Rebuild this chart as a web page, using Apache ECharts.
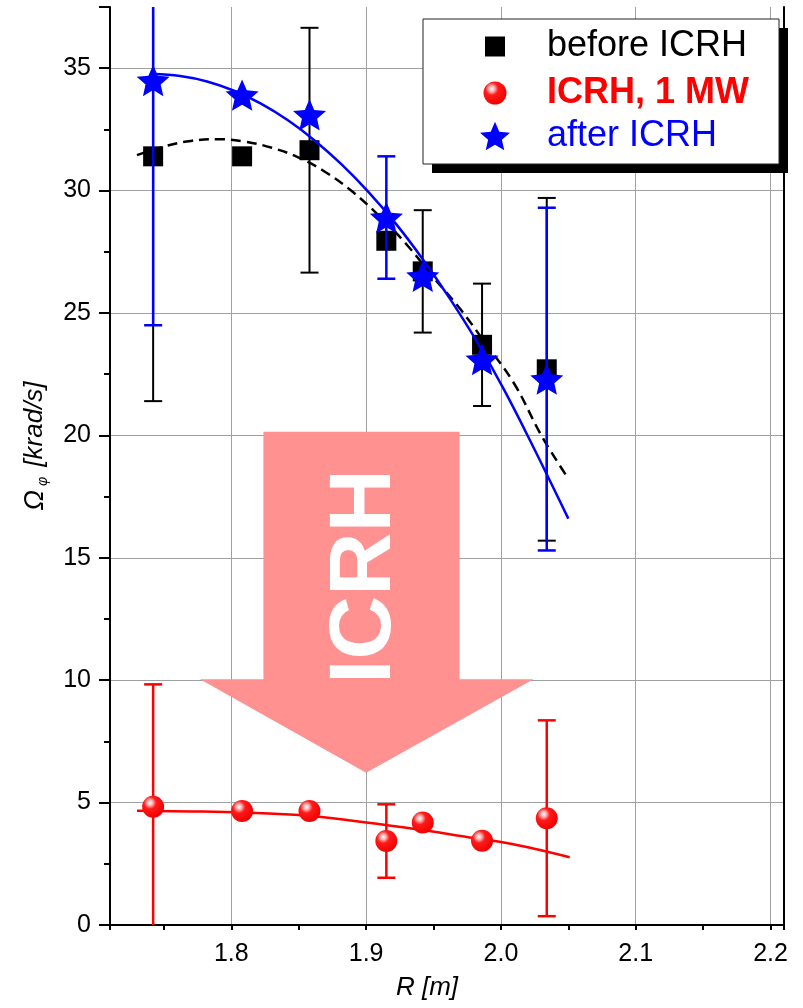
<!DOCTYPE html>
<html>
<head>
<meta charset="utf-8">
<script src="https://cdn.jsdelivr.net/npm/echarts@6/dist/echarts.min.js"></script>
<style>
  html, body { margin: 0; padding: 0; background: #ffffff; }
  #chart { width: 803px; height: 1008px; }
</style>
</head>
<body>
<div id="chart"></div>
<script>
// Major radius of the measurement channels [m]
const radius = [1.742, 1.808, 1.858, 1.915, 1.942, 1.986, 2.034];

// Toroidal rotation Omega_phi [krad/s] and its uncertainty (null = no bar drawn)
const beforeOmega = [31.4, 31.4, 31.65, 27.95, 26.7, 23.7, 22.7];
const beforeError = [10, null, 5, null, 2.5, 2.5, 7];
const icrhOmega   = [4.83, 4.66, 4.66, 3.43, 4.19, 3.44, 4.36];
const icrhError   = [5, null, null, 1.5, null, null, 4];
const afterOmega  = [34.5, 33.9, 33.1, 28.9, 26.5, 23.1, 22.3];
const afterError  = [10, null, null, 2.5, null, null, 7];

// Fitted profiles
const beforeFitR = [1.730, 1.750, 1.770, 1.790, 1.810, 1.830, 1.850, 1.870, 1.890, 1.910, 1.930, 1.950, 1.970, 1.990, 2.010, 2.030, 2.048];
const beforeFitV = [31.45, 31.8, 32.03, 32.1, 32.0, 31.75, 31.35, 30.75, 29.95, 28.95, 27.8, 26.45, 25.15, 23.65, 22.1, 20.0, 18.4];
const afterFitR  = [1.742, 1.762, 1.782, 1.802, 1.822, 1.842, 1.862, 1.882, 1.902, 1.922, 1.942, 1.962, 1.982, 2.002, 2.022, 2.050];
const afterFitV  = [34.76, 34.68, 34.46, 34.08, 33.55, 32.87, 32.04, 31.06, 29.93, 28.65, 27.2, 25.6, 23.85, 21.9, 19.75, 16.6];
const icrhFitR   = [1.730, 1.770, 1.810, 1.850, 1.890, 1.930, 1.970, 2.010, 2.051];
const icrhFitV   = [4.67, 4.64, 4.59, 4.49, 4.26, 3.97, 3.64, 3.29, 2.77];

// Tick labels
const xTickLabels = ['1.8', '1.9', '2.0', '2.1', '2.2'];
const yTickLabels = ['0', '5', '10', '15', '20', '25', '30', '35'];

// Big "ICRH" arrow outline in data units (R, Omega)
const arrowR = [1.8238, 1.9693, 1.9693, 2.0242, 1.9000, 1.7768, 1.8238];
const arrowV = [20.15, 20.15, 10.04, 10.04, 6.22, 10.04, 10.04];
const arrowLabelAt = [1.8996, 14.24];

const FONT = '"Liberation Sans", Arial, Helvetica, sans-serif';

function pairs(xs, ys) { return xs.map((x, i) => [x, ys[i]]); }
function errorData(vals, errs) {
  const out = [];
  vals.forEach((v, i) => { if (errs[i] != null) out.push([radius[i], v - errs[i], v + errs[i]]); });
  return out;
}
function starSymbol(inner) {
  const pts = [];
  for (let k = 0; k < 10; k++) {
    const a = -Math.PI / 2 + k * Math.PI / 5;
    const r = k % 2 ? inner : 1;
    pts.push((r * Math.cos(a)).toFixed(4) + ',' + (r * Math.sin(a)).toFixed(4));
  }
  return 'path://M' + pts.join('L') + 'Z';
}
const STAR = starSymbol(0.46);
const SQUARE = 'path://M0,0L1,0L1,1L0,1Z';
const sphere = {
  type: 'radial', x: 0.36, y: 0.32, r: 0.7,
  colorStops: [
    { offset: 0, color: '#ffffff' },
    { offset: 0.18, color: '#ffb0b0' },
    { offset: 0.4, color: '#ff1a1a' },
    { offset: 1, color: '#f00000' }
  ]
};

function errorBars(color, width) {
  return function (params, api) {
    const x = api.value(0), lo = api.value(1), hi = api.value(2);
    const cs = params.coordSys;
    const top = cs.y, bottom = cs.y + cs.height;
    const pHi = api.coord([x, hi]);
    const pLo = api.coord([x, lo]);
    const half = 9;
    const style = { stroke: color, lineWidth: width };
    const children = [{
      type: 'line',
      shape: { x1: pHi[0], y1: Math.max(pHi[1], top), x2: pLo[0], y2: Math.min(pLo[1], bottom) },
      style: style
    }];
    if (pHi[1] >= top) children.push({ type: 'line', shape: { x1: pHi[0] - half, y1: pHi[1], x2: pHi[0] + half, y2: pHi[1] }, style: style });
    if (pLo[1] <= bottom) children.push({ type: 'line', shape: { x1: pLo[0] - half, y1: pLo[1], x2: pLo[0] + half, y2: pLo[1] }, style: style });
    return { type: 'group', children: children };
  };
}

function drawArrow(params, api) {
  const pts = arrowR.map((r, i) => api.coord([r, arrowV[i]]));
  const c = api.coord(arrowLabelAt);
  return {
    type: 'group',
    children: [
      { type: 'polygon', shape: { points: pts }, style: { fill: '#ff9191' } },
      {
        type: 'text', x: c[0], y: c[1], rotation: Math.PI / 2,
        style: {
          text: 'ICRH', fill: '#ffffff', font: 'bold 88px ' + FONT,
          align: 'center', verticalAlign: 'middle'
        }
      }
    ]
  };
}

// One legend block per row so each marker keeps its own size
function legendRow(name, icon, size, rowCenter, gap, textStyle) {
  return {
    data: [{ name: name, icon: icon }],
    orient: 'vertical',
    left: 495 - size / 2, top: rowCenter - 18,
    padding: 0,
    itemWidth: size, itemHeight: size,
    selectedMode: false,
    z: 20,
    formatter: '{g|}{t|{name}}',
    textStyle: {
      lineHeight: 36,
      rich: {
        g: { width: gap, lineHeight: 36 },
        t: Object.assign({ fontFamily: FONT, fontSize: 36, lineHeight: 36 }, textStyle)
      }
    }
  };
}

const chart = echarts.init(document.getElementById('chart'), null, { renderer: 'canvas' });

chart.setOption({
  animation: false,
  backgroundColor: '#ffffff',
  grid: { left: 110, right: 19, top: 7, bottom: 83, containLabel: false },
  graphic: [
    { type: 'rect', z: 15, shape: { x: 432, y: 28, width: 356, height: 145 }, style: { fill: '#000000' } },
    { type: 'rect', z: 16, shape: { x: 423, y: 19, width: 356, height: 145 }, style: { fill: '#ffffff', stroke: '#222222', lineWidth: 1 } }
  ],
  legend: [
    legendRow('before ICRH', SQUARE, 20, 46.5, 37, { color: '#000000' }),
    legendRow('ICRH, 1 MW', 'circle', 23, 93, 35.5, { color: '#ff0000', fontWeight: 'bold' }),
    legendRow('after ICRH', STAR, 30, 136, 32, { color: '#0000ff' })
  ],
  xAxis: [{
    type: 'value', min: 1.71, max: 2.21,
    name: 'R [m]', nameLocation: 'middle', nameGap: 50,
    nameTextStyle: { fontFamily: FONT, fontSize: 26, fontStyle: 'italic', color: '#000', padding: [0, 40, 0, 0] },
    axisLine: { lineStyle: { color: '#000', width: 2 } },
    axisTick: { inside: false, length: 5, lineStyle: { color: '#000', width: 2 } },
    minorTick: { show: true, splitNumber: 2, length: 5, lineStyle: { color: '#000', width: 2 } },
    axisLabel: {
      margin: 17, fontFamily: FONT, fontSize: 25, color: '#000',
      showMinLabel: false, showMaxLabel: false,
      formatter: v => { const s = v.toFixed(1); return xTickLabels.indexOf(s) >= 0 ? s : ''; }
    },
    splitLine: { show: true, showMinLine: false, showMaxLine: false, lineStyle: { color: '#a0a0a0', width: 1 } }
  }, {
    type: 'value', min: 1.71, max: 2.21, position: 'top',
    axisLine: { lineStyle: { color: '#000', width: 2 } },
    axisTick: { show: false }, axisLabel: { show: false }, splitLine: { show: false }
  }],
  yAxis: [{
    type: 'value', min: 0, max: 37.5, interval: 5,
    name: '{o|Ω}{s|φ}{t| [krad/s]}', nameLocation: 'middle', nameGap: 60, nameRotate: 90,
    nameTextStyle: {
      padding: [0, 0, 0, 40],
      rich: {
        o: { fontFamily: FONT, fontSize: 27, fontStyle: 'italic', color: '#000' },
        s: { fontFamily: FONT, fontSize: 14, fontStyle: 'italic', color: '#000', padding: [16, 3, 0, 4] },
        t: { fontFamily: FONT, fontSize: 26, fontStyle: 'italic', color: '#000' }
      }
    },
    axisLine: { lineStyle: { color: '#000', width: 2 } },
    axisTick: { inside: false, length: 11, lineStyle: { color: '#000', width: 2 } },
    minorTick: { show: true, splitNumber: 2, length: 6, lineStyle: { color: '#000', width: 2 } },
    axisLabel: {
      margin: 19, fontFamily: FONT, fontSize: 25, color: '#000', showMaxLabel: false,
      formatter: v => { const s = String(v); return yTickLabels.indexOf(s) >= 0 ? s : ''; }
    },
    splitLine: { show: true, showMinLine: false, showMaxLine: false, lineStyle: { color: '#a0a0a0', width: 1 } }
  }, {
    type: 'value', min: 0, max: 37.5, position: 'right',
    axisLine: { show: true, lineStyle: { color: '#000', width: 2 } },
    axisTick: { show: false }, axisLabel: { show: false }, splitLine: { show: false }
  }],
  series: [
    {
      name: 'arrow', type: 'custom', z: 1, silent: true,
      renderItem: drawArrow, data: [[arrowLabelAt[0], arrowLabelAt[1]]]
    },
    // before ICRH
    { name: 'before ICRH errors', type: 'custom', z: 2, renderItem: errorBars('#000000', 2), data: errorData(beforeOmega, beforeError) },
    {
      name: 'before ICRH fit', type: 'line', z: 3, showSymbol: false, smooth: 0.4,
      lineStyle: { color: '#000', width: 2.5, type: [10, 6] }, data: pairs(beforeFitR, beforeFitV)
    },
    {
      name: 'before ICRH', type: 'scatter', z: 3, symbol: SQUARE, symbolSize: 20, symbolKeepAspect: true,
      itemStyle: { color: '#000000', opacity: 1 }, data: pairs(radius, beforeOmega)
    },
    // ICRH, 1 MW
    { name: 'ICRH errors', type: 'custom', z: 4, renderItem: errorBars('#ff0000', 2.5), data: errorData(icrhOmega, icrhError) },
    {
      name: 'ICRH fit', type: 'line', z: 4, showSymbol: false, smooth: 0.4,
      lineStyle: { color: '#ff0000', width: 2.5 }, data: pairs(icrhFitR, icrhFitV)
    },
    {
      name: 'ICRH, 1 MW', type: 'scatter', z: 5, symbol: 'circle', symbolSize: 22,
      itemStyle: { color: sphere, opacity: 1 }, data: pairs(radius, icrhOmega)
    },
    // after ICRH
    { name: 'after ICRH errors', type: 'custom', z: 4, renderItem: errorBars('#0000ff', 2.5), data: errorData(afterOmega, afterError) },
    {
      name: 'after ICRH fit', type: 'line', z: 4, showSymbol: false, smooth: 0.4,
      lineStyle: { color: '#0000ff', width: 2.5 }, data: pairs(afterFitR, afterFitV)
    },
    {
      name: 'after ICRH', type: 'scatter', z: 5, symbol: STAR, symbolSize: 33, symbolKeepAspect: true,
      itemStyle: { color: '#0000ff', opacity: 1 }, data: pairs(radius, afterOmega)
    }
  ]
});
</script>
</body>
</html>
